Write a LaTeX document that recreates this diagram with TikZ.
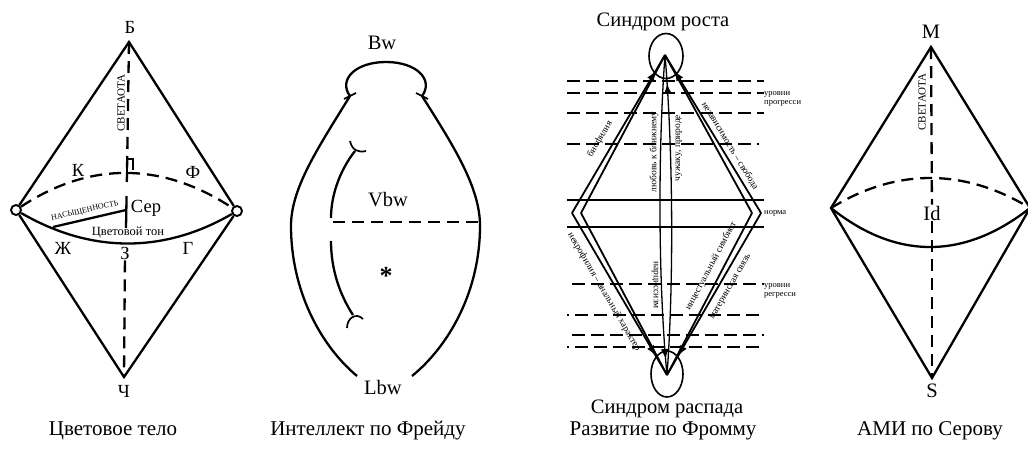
\documentclass[tikz,border=0pt]{standalone}
\usepackage{fontspec}
\setmainfont{Liberation Serif}
\usetikzlibrary{arrows.meta,shapes.geometric,decorations.markings}
\tikzset{
  edge/.style={line width=2.3pt},
  dashedge/.style={line width=2.3pt, dash pattern=on 12pt off 7pt},
  ring/.style={draw, circle, line width=1.9pt, minimum size=10pt, inner sep=0pt, fill=white},
  lab/.style={font=\fontsize{18.5}{20}\selectfont, inner sep=1pt},
  latlab/.style={font=\fontsize{20.5}{22}\selectfont, inner sep=1pt},
  caption/.style={font=\fontsize{21}{23}\selectfont, inner sep=1pt},
  smalllbl/.style={font=\fontsize{11}{12}\selectfont, inner sep=1pt},
  tonelbl/.style={font=\fontsize{12.5}{13}\selectfont, inner sep=1pt},
  tinylbl/.style={font=\fontsize{8}{9}\selectfont, inner sep=1pt},
  pathlbl/.style={font=\fontsize{9.5}{10}\selectfont, inner sep=0.5pt},
  sidelbl/.style={font=\fontsize{8.5}{9.5}\selectfont, inner sep=1pt, anchor=west, align=left},
  level/.style={line width=1.9pt, dash pattern=on 13pt off 6pt},
  levelb/.style={level, dash phase=11.5pt},
  normline/.style={line width=1.3pt},
  route/.style={line width=1.8pt},
  syndrome/.style={draw, ellipse, line width=1.6pt, inner sep=0pt},
  tipat/.style={postaction={decorate}, decoration={markings, mark=at position #1 with {\arrow{Latex[length=10pt,width=8pt]}}}}
}
\begin{document}
\begin{tikzpicture}[x=1pt,y=-1pt]
  \useasboundingbox (0,0) rectangle (1028,451);

  % colour body
  \coordinate (b1) at (129,42);
  \coordinate (ch1) at (124,377);
  \node[ring] (lc) at (16,210) {};
  \node[ring] (rc) at (237,211) {};
  \draw[edge] (lc) -- (b1) -- (rc);
  \draw[edge] (lc) -- (ch1) -- (rc);
  \draw[dashedge] (lc) .. controls (90,161) and (163,162) .. (rc);
  \draw[edge] (lc) .. controls (90,253) and (163,254) .. (rc);
  \coordinate (sq) at (127,172);
  \coordinate (grey) at (126,228);
  \coordinate (sat) at (126,210);
  \coordinate (sat2) at (53,227);
  \draw[dashedge] (b1) -- (sq);
  \draw[line width=1.7pt] (sq) |- (133,159) -- (133,170);
  \draw[edge, dash pattern=on 10pt off 14pt on 40pt off 0pt] (sq) -- (grey);
  \draw[edge] (sat) -- (sat2);
  \node[lab] (bl) at (130,27) {Б};
  \node[lab] (chl) at (124,391) {Ч};
  \node[lab] (z1) at (125,253) {З};
  \draw[dashedge] (z1) -- (ch1);
  \node[lab] at (78,170) {К};
  \node[lab] at (193,172) {Ф};
  \node[lab] at (63,248) {Ж};
  \node[lab] at (188,248) {Г};
  \node[lab] at (146,208) {Сер};
  \node[smalllbl, rotate=90] at (121,103) {СВЕТАОТА};
  \node[tinylbl, rotate=13] at (85,211) {НАСЫЩЕННОСТЬ};
  \node[tonelbl] at (128,233) {Цветовой тон};
  \node[caption] at (113,431) {Цветовое тело};

  % Freud
  \coordinate (tl) at (350,96);
  \coordinate (tr) at (422,96);
  \coordinate (bl2) at (357,376);
  \coordinate (br2) at (412,376);
  \draw[edge] (tl) .. controls (338,80) and (355,62) .. (386,62) .. controls (417,62) and (434,80) .. (tr);
  \draw[edge] (tl) .. controls (318,148) and (291,188) .. (291,226) .. controls (291,290) and (320,345) .. (bl2);
  \draw[edge] (tr) .. controls (455,148) and (480,188) .. (480,226) .. controls (480,290) and (450,345) .. (br2);
  \draw[line width=1.7pt] (344,99) -- (356,93);
  \draw[line width=1.7pt] (416,93) -- (428,99);
  \coordinate (ego1) at (355,151);
  \coordinate (ego2) at (331,218);
  \coordinate (ego3) at (331,241);
  \coordinate (ego4) at (353,315);
  \draw[edge] (ego1) .. controls (340,170) and (331,195) .. (ego2);
  \draw[edge] (ego3) .. controls (331,270) and (340,295) .. (ego4);
  \draw[line width=1.7pt] (350,141) .. controls (352,150) and (358,153) .. (366,151);
  \draw[line width=1.7pt] (347,328) .. controls (347,318) and (356,312) .. (363,319);
  \coordinate (vl) at (333,222);
  \coordinate (vr) at (480,222);
  \draw[dashedge] (vl) -- (vr);
  \node[latlab] at (382,43) {Bw};
  \node[latlab] at (388,200) {Vbw};
  \node[latlab, font=\fontsize{26}{26}\selectfont\bfseries] at (386,276) {*};
  \node[latlab] at (383,387) {Lbw};
  \node[caption] at (368,431) {Интеллект по Фрейду};

  % Fromm
  \node[syndrome, minimum width=34pt, minimum height=45pt] (grow) at (666,56) {};
  \node[syndrome, minimum width=32pt, minimum height=46pt] (decay) at (667,374) {};
  \coordinate (top3) at (665,55);
  \coordinate (bot3) at (667,375);
  \foreach \y in {81,93,113}
    \draw[level] (567,\y) -- (764,\y);
  \draw[level] (567,144) -- (759,144);
  \foreach \y in {284,335}
    \draw[level] (572,\y) -- (764,\y);
  \foreach \y in {315,347}
    \draw[levelb] (567,\y) -- (764,\y);
  \foreach \y in {200,227}
    \draw[normline] (567,\y) -- (764,\y);
  \coordinate (lo) at (572,213);
  \coordinate (li) at (581,213);
  \coordinate (ro) at (761,213);
  \coordinate (ri) at (752,213);
  \draw[route, tipat=0.9] (lo) -- (top3);
  \draw[route] (li) -- (top3);
  \draw[route, tipat=0.9] (ro) -- (top3);
  \draw[route] (ri) -- (top3);
  \draw[route, tipat=0.88] (lo) -- (bot3);
  \draw[route] (li) -- (bot3);
  \draw[route, tipat=0.88] (ro) -- (bot3);
  \draw[route] (ri) -- (bot3);
  \draw[normline, tipat=0.91] (bot3) .. controls (674,280) and (673,150) .. (top3);
  \draw[normline, tipat=0.95] (top3) .. controls (658,150) and (658,280) .. (bot3);
  \node[caption, font=\fontsize{20.5}{22}\selectfont] at (663,22) {Синдром роста};
  \node[caption, font=\fontsize{20.5}{22}\selectfont] at (667,409) {Синдром распада};
  \node[pathlbl, rotate=59.5] at (600,139) {биофилия};
  \node[pathlbl, rotate=90] at (654,152) {любовь к ближнему};
  \node[pathlbl, rotate=90] at (679,148) {чужаку, природе};
  \node[pathlbl, rotate=-58.7] at (730,146) {независимость – свобода};
  \node[pathlbl, rotate=-59.6] at (604,292) {некрофилия – анальный характер};
  \node[pathlbl, rotate=-90] at (655,285) {нарциссизм};
  \node[pathlbl, rotate=62] at (711,266) {инцестуальный симбиот};
  \node[pathlbl, rotate=60] at (731,287) {материнская связь};
  \node[sidelbl] at (763,99) {уровни\\прогресси};
  \node[sidelbl] at (763,213) {норма};
  \node[sidelbl] at (763,291) {уровни\\регресси};
  \node[caption] at (663,431) {Развитие по Фромму};

  % Serov
  \coordinate (m4) at (931,47);
  \coordinate (s4) at (932,378);
  \coordinate (l4) at (831,208);
  \coordinate (r4) at (1030,208);
  \draw[edge] (l4) -- (m4) -- (r4) -- (s4) -- cycle;
  \draw[dashedge] (l4) .. controls (896,168) and (964,168) .. (r4);
  \draw[edge] (l4) .. controls (896,260) and (964,260) .. (r4);
  \node[latlab] (id4) at (932,213) {Id};
  \draw[dashedge] (m4) -- (id4);
  \draw[dashedge] (id4) -- (s4);
  \node[latlab] at (931,32) {M};
  \node[latlab] at (932,391) {S};
  \node[smalllbl, rotate=90] at (922,102) {СВЕТАОТА};
  \node[caption] at (930,431) {АМИ по Серову};
\end{tikzpicture}
\end{document}
